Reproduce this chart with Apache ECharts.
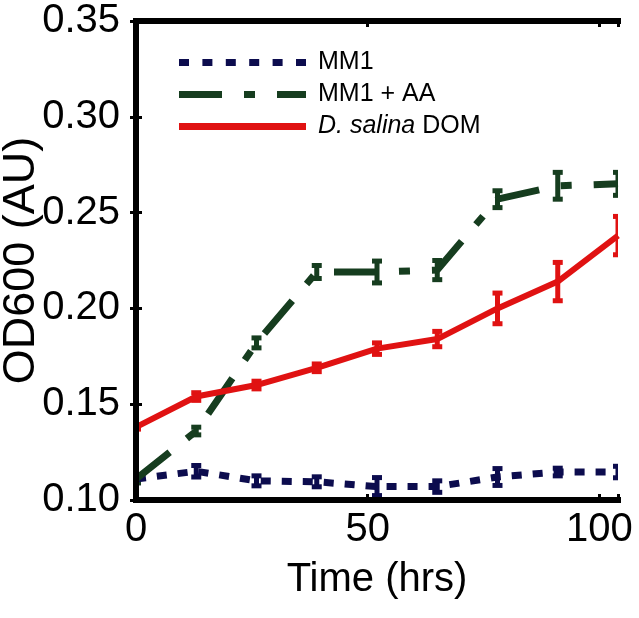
<!DOCTYPE html>
<html>
<head>
<meta charset="utf-8">
<script src="https://cdn.jsdelivr.net/npm/echarts@6/dist/echarts.min.js"></script>
<style>
  html, body { margin: 0; padding: 0; background: #fff; }
  #chart { width: 639px; height: 618px; }
</style>
</head>
<body>
<div id="chart"></div>
<script>
// sampling times (hrs)
const hours = [0, 13, 26, 39, 52, 65, 78, 91, 104]
// OD600 means and error bars
const mm1 = [0.111, 0.115, 0.110, 0.1095, 0.107, 0.107, 0.112, 0.1146, 0.1146]
const mm1Err = [0.002, 0.003, 0.0026, 0.0026, 0.0047, 0.003, 0.0044, 0.002, 0.003]
const mm1AA = [0.111, 0.136, 0.182, 0.219, 0.219, 0.220, 0.257, 0.264, 0.265]
const mm1AAErr = [0.002, 0.002, 0.0026, 0.0034, 0.0057, 0.005, 0.0044, 0.007, 0.006]
const salina = [0.138, 0.154, 0.160, 0.169, 0.179, 0.184, 0.200, 0.214, 0.238]
const salinaErr = [0.001, 0.002, 0.002, 0.002, 0.003, 0.004, 0.008, 0.010, 0.010]
const xTicks = [0, 50, 100]
const yTicks = [0.10, 0.15, 0.20, 0.25, 0.30, 0.35]

const BLUE = '#0c0c4e'
const GREEN = '#163d1f'
const RED = '#e01212'
const FONT = 'Liberation Sans'

// legend swatches drawn as filled paths so they keep the dash look
const ICON_DOTS = 'path://M0,0h10v7h-10z M23.4,0h10v7h-10z M46.8,0h10v7h-10z M70.2,0h10v7h-10z M93.6,0h10v7h-10z M117,0h10v7h-10z'
const ICON_DASHDOT = 'path://M0,0h43v7h-43z M65,0h11v7h-11z M98,0h29v7h-29z'
const ICON_SOLID = 'path://M0,0h127v7h-127z'

function errorSeries(name, vals, errs, color) {
  return {
    name: name,
    type: 'custom',
    clip: true,
    z: 3,
    data: hours.map((h, i) => [h, vals[i], errs[i]]),
    renderItem: function (params, api) {
      const x = api.value(0), y = api.value(1), e = api.value(2)
      const top = api.coord([x, y + e])
      const bot = api.coord([x, y - e])
      const hw = 5
      const style = { stroke: color, lineWidth: 5 }
      return {
        type: 'group',
        children: [
          { type: 'line', shape: { x1: top[0], y1: top[1], x2: bot[0], y2: bot[1] }, style: style },
          { type: 'line', shape: { x1: top[0] - hw, y1: top[1], x2: top[0] + hw, y2: top[1] }, style: style },
          { type: 'line', shape: { x1: bot[0] - hw, y1: bot[1], x2: bot[0] + hw, y2: bot[1] }, style: style }
        ]
      }
    }
  }
}

const chart = echarts.init(document.getElementById('chart'))

const frameAxis = {
  type: 'value',
  z: 10,
  axisLine: { show: true, lineStyle: { color: '#000', width: 6, cap: 'square' } },
  axisTick: { show: true, inside: true, length: 6, lineStyle: { color: '#000', width: 3 } },
  splitLine: { show: false }
}

chart.setOption({
  animation: false,
  backgroundColor: '#fff',
  textStyle: { fontFamily: FONT },
  grid: { left: 136, right: 21, top: 21, bottom: 118, containLabel: false, outerBoundsMode: 'none' },
  legend: {
    orient: 'vertical',
    left: 174,
    top: 45,
    itemWidth: 127,
    itemHeight: 7,
    itemGap: 7,
    data: [
      { name: 'MM1', icon: ICON_DOTS },
      { name: 'MM1 + AA', icon: ICON_DASHDOT },
      { name: 'D. salina DOM', icon: ICON_SOLID }
    ],
    textStyle: {
      fontFamily: FONT, fontSize: 25, color: '#000',
      padding: [0, 0, 0, 7],
      rich: {
        it: { fontFamily: FONT, fontSize: 25, fontStyle: 'italic', color: '#000' },
        n: { fontFamily: FONT, fontSize: 25, color: '#000' }
      }
    },
    formatter: function (name) {
      if (name === 'D. salina DOM') return '{it|D. salina} {n|DOM}'
      return name
    }
  },
  xAxis: [
    Object.assign({}, frameAxis, {
      position: 'bottom',
      min: 0, max: 104, interval: 50,
      name: 'Time (hrs)',
      nameLocation: 'middle',
      nameGap: 60,
      nameTextStyle: { fontFamily: FONT, fontSize: 40, color: '#000', verticalAlign: 'top' },
      axisLabel: {
        margin: 10,
        fontFamily: FONT, fontSize: 40, color: '#000',
        formatter: v => (xTicks.indexOf(v) >= 0 ? String(v) : '')
      }
    }),
    Object.assign({}, frameAxis, {
      position: 'top',
      min: 0, max: 104, interval: 50,
      axisLabel: { show: false }
    })
  ],
  yAxis: [
    Object.assign({}, frameAxis, {
      position: 'left',
      min: 0.10, max: 0.35, interval: 0.05,
      name: 'OD600 (AU)',
      nameLocation: 'middle',
      nameGap: 92,
      nameMoveOverlap: false,
      nameTextStyle: { fontFamily: FONT, fontSize: 45, color: '#000' },
      axisLabel: {
        margin: 16,
        fontFamily: FONT, fontSize: 40, color: '#000',
        formatter: v => {
          const t = yTicks.find(k => Math.abs(k - v) < 1e-6)
          return t === undefined ? '' : t.toFixed(2)
        }
      }
    }),
    Object.assign({}, frameAxis, {
      position: 'right',
      min: 0.10, max: 0.35, interval: 0.05,
      axisLabel: { show: false }
    })
  ],
  series: [
    {
      name: 'MM1',
      type: 'line',
      symbol: 'none',
      color: BLUE,
      lineStyle: { color: BLUE, width: 7, type: [10, 11] },
      data: hours.map((h, i) => [h, mm1[i]])
    },
    {
      name: 'MM1 + AA',
      type: 'line',
      symbol: 'none',
      color: GREEN,
      lineStyle: { color: GREEN, width: 7, type: [43, 22, 11, 22] },
      data: hours.map((h, i) => [h, mm1AA[i]])
    },
    {
      name: 'D. salina DOM',
      type: 'line',
      symbol: 'none',
      color: RED,
      lineStyle: { color: RED, width: 6 },
      data: hours.map((h, i) => [h, salina[i]])
    },
    errorSeries('mm1-err', mm1, mm1Err, BLUE),
    errorSeries('mm1aa-err', mm1AA, mm1AAErr, GREEN),
    errorSeries('salina-err', salina, salinaErr, RED)
  ]
})
</script>
</body>
</html>
